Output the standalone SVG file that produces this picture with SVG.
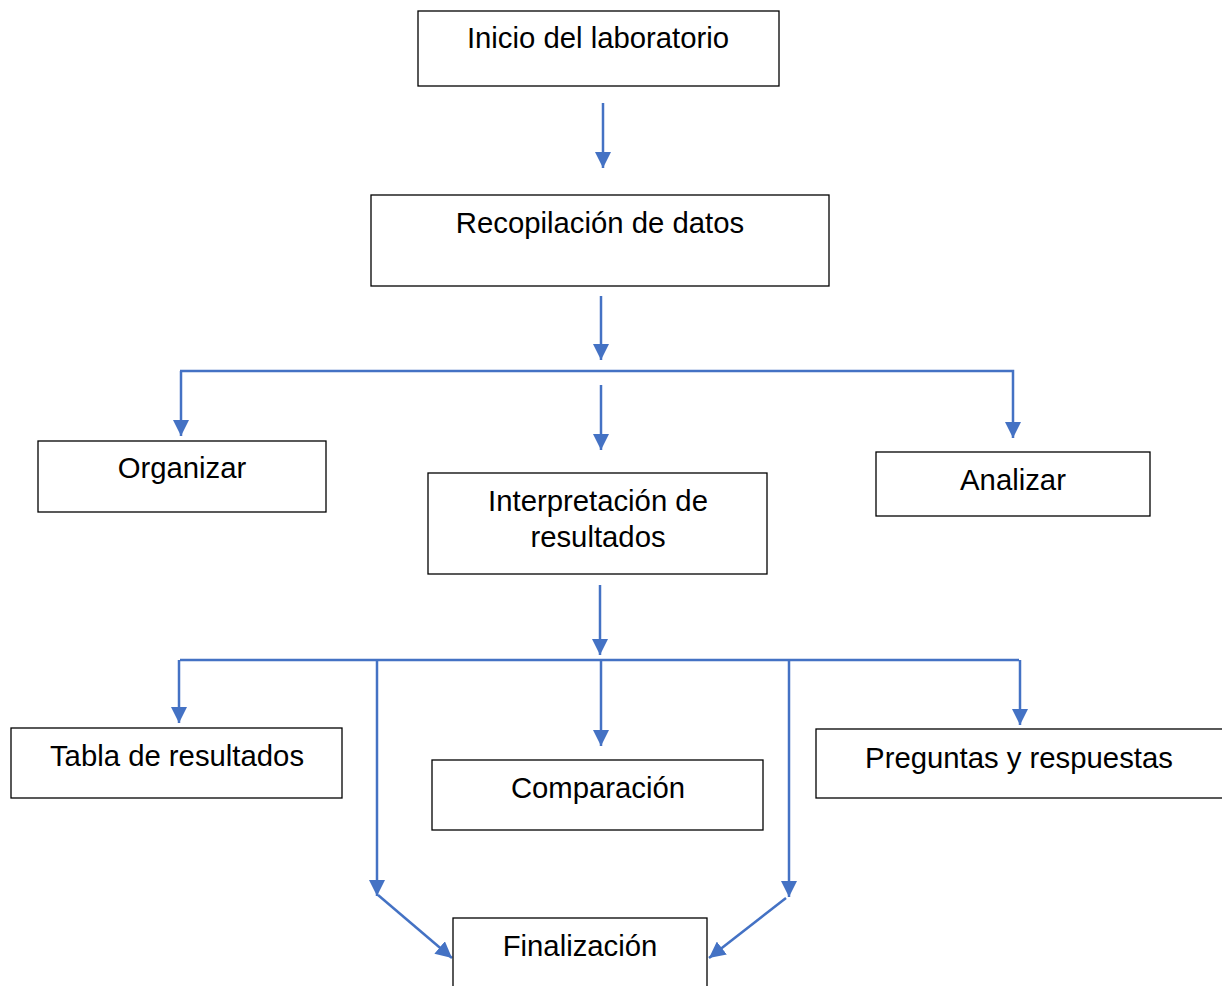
<svg xmlns="http://www.w3.org/2000/svg" width="1222" height="986" viewBox="0 0 1222 986">
<style>
.box{fill:#fff;stroke:#000;stroke-width:1.3}
.t{font-family:"Liberation Sans",Arial,sans-serif;font-size:29.3px;fill:#000;text-anchor:middle}
.c{fill:none;stroke:#4472C4;stroke-width:2.5}
</style>
<defs>
<marker id="ah" viewBox="0 0 10 10" refX="10" refY="5" markerWidth="6.5" markerHeight="6.5" markerUnits="strokeWidth" orient="auto">
<path d="M0,0 L10,5 L0,10 z" fill="#4472C4"/>
</marker>
</defs>
<rect width="1222" height="986" fill="#fff"/>
<g id="connectors">
<line class="c" x1="603" y1="103" x2="603" y2="168" marker-end="url(#ah)"/>
<line class="c" x1="601" y1="296" x2="601" y2="360" marker-end="url(#ah)"/>
<polyline class="c" points="180,371 1013,371 1013,438" marker-end="url(#ah)"/>
<line class="c" x1="181" y1="371" x2="181" y2="436" marker-end="url(#ah)"/>
<line class="c" x1="601" y1="385" x2="601" y2="450" marker-end="url(#ah)"/>
<line class="c" x1="600" y1="585" x2="600" y2="655" marker-end="url(#ah)"/>
<line class="c" x1="180" y1="660" x2="1019" y2="660"/>
<line class="c" x1="179" y1="660" x2="179" y2="723" marker-end="url(#ah)"/>
<line class="c" x1="377" y1="660" x2="377" y2="896" marker-end="url(#ah)"/>
<line class="c" x1="601" y1="660" x2="601" y2="746" marker-end="url(#ah)"/>
<line class="c" x1="789" y1="660" x2="789" y2="897" marker-end="url(#ah)"/>
<line class="c" x1="1020" y1="660" x2="1020" y2="725" marker-end="url(#ah)"/>
<line class="c" x1="378" y1="895" x2="452" y2="958" marker-end="url(#ah)"/>
<line class="c" x1="786" y1="898" x2="709" y2="958" marker-end="url(#ah)"/>
</g>
<g id="inicio"><rect class="box" x="418" y="11" width="361" height="75"/><text class="t" x="598" y="48">Inicio del laboratorio</text></g>
<g id="recopilacion"><rect class="box" x="371" y="195" width="458" height="91"/><text class="t" x="600" y="233">Recopilación de datos</text></g>
<g id="organizar"><rect class="box" x="38" y="441" width="288" height="71"/><text class="t" x="182" y="478">Organizar</text></g>
<g id="interpretacion"><rect class="box" x="428" y="473" width="339" height="101"/><text class="t" x="598" y="511">Interpretación de</text><text class="t" x="598" y="547">resultados</text></g>
<g id="analizar"><rect class="box" x="876" y="452" width="274" height="64"/><text class="t" x="1013" y="490">Analizar</text></g>
<g id="tabla"><rect class="box" x="11" y="728" width="331" height="70"/><text class="t" x="177" y="766">Tabla de resultados</text></g>
<g id="comparacion"><rect class="box" x="432" y="760" width="331" height="70"/><text class="t" x="598" y="798">Comparación</text></g>
<g id="preguntas"><rect class="box" x="816" y="729" width="420" height="69"/><text class="t" x="1019" y="768">Preguntas y respuestas</text></g>
<g id="finalizacion"><rect class="box" x="453" y="918" width="254" height="80"/><text class="t" x="580" y="956">Finalización</text></g>
</svg>
